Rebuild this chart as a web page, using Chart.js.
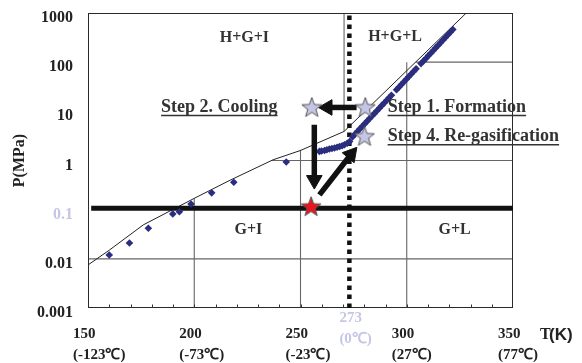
<!DOCTYPE html>
<html>
<head>
<meta charset="utf-8">
<script src="https://cdn.jsdelivr.net/npm/chart.js@4.4.0/dist/chart.umd.min.js"></script>
<style>
  html, body { margin: 0; padding: 0; background: #fff; }
  #wrap { width: 582px; height: 363px; }
</style>
</head>
<body>
<div id="wrap"><canvas id="c"></canvas></div>
<script>
// axis ticks
const tempTicks = [150, 200, 250, 300, 350];
const tempCelsius = ['(-123℃)', '(-73℃)', '(-23℃)', '(27℃)', '(77℃)'];
const pressureTicks = [0.001, 0.01, 0.1, 1, 10, 100, 1000];

// hydrate equilibrium boundary (T in K, P in MPa)
const boundaryT = [150, 160, 176, 200, 217, 237, 250, 270.5, 328];
const boundaryP = [0.0075, 0.015, 0.049, 0.17, 0.4, 1.03, 1.6, 3.9, 1000];

// measured equilibrium points
const measT = [160, 169.5, 178.4, 189.9, 193, 198.5, 208.2, 218.6, 243.3,
  258.9, 259.9, 261.3, 262.4, 263.6, 264.8, 266.0, 267.2, 268.4, 269.6, 270.7, 272.0, 273.1,
  274.5, 275.6, 276.8, 278.0, 279.1, 280.2, 281.4, 282.5, 283.7, 284.8, 286.0, 287.1,
  288.3, 289.4, 290.6, 291.7, 292.8,
  295.2, 296.3, 297.5, 298.6, 299.8, 300.9, 302.1, 303.2, 304.4,
  306.7, 307.9, 309.0, 310.2, 311.3, 312.5, 313.6, 314.8, 315.9, 317.1, 318.2, 319.4, 320.5, 321.7];
const measP = [0.012, 0.021, 0.042, 0.082, 0.091, 0.13, 0.22, 0.36, 0.93,
  1.53, 1.56, 1.60, 1.65, 1.71, 1.75, 1.79, 1.86, 1.93, 2.0, 2.09, 2.25, 2.44,
  3.03, 3.41, 3.88, 4.41, 4.95, 5.57, 6.33, 7.11, 8.09, 9.08, 10.3, 11.6,
  13.2, 14.8, 16.8, 18.9, 21.3,
  27.5, 30.9, 35.1, 39.4, 44.8, 50.4, 57.3, 64.4, 73.1,
  93.4, 106, 119, 136, 152, 173, 195, 221, 249, 282, 318, 361, 406, 461];

// process states
const stepStarT = [255.3, 280.5, 280.1];
const stepStarP = [12, 12, 3.09];
const storeStarT = [255];
const storeStarP = [0.115];

// arrows: [tail, head]
const arrowFormT = [276.4, 262.7];
const arrowFormP = [12, 12];
const arrowCoolT = [256.5, 256.5];
const arrowCoolP = [5.35, 0.40];
const arrowRegasT = [258.9, 273.8];
const arrowRegasP = [0.2, 1.34];

// storage pressure line and 0 ℃ line
const storeLineT = [151.5, 350];
const storeLineP = [0.107, 0.107];
const meltT = [273, 273];
const meltP = [0.001, 1000];

// grid segments drawn only in the gas regions: [[T0, P0], [T1, P1]]
const gridSegments = [
  [[200, 0.001], [200, 0.17]],
  [[250, 0.001], [250, 1.65]],
  [[300, 0.001], [300, 100]],
  [[270.5, 3.9], [270.5, 1000]],
  [[150, 0.01], [350, 0.01]],
  [[236.5, 1], [350, 1]],
  [[304.3, 100], [350, 100]]
];
const frameSegments = [
  [[150, 0.001], [150, 1000]],
  [[150, 0.001], [350, 0.001]],
  [[150, 1000], [350, 1000]],
  [[350, 0.001], [350, 1000]]
];

// text annotations
const regionLabels = ['H+G+I', 'H+G+L', 'G+I', 'G+L'];
const regionT = [223.6, 294.5, 225.5, 322.5];
const regionP = [316, 320, 0.039, 0.039];
const stepLabels = ['Step 2. Cooling', 'Step 1. Formation', 'Step 4. Re-gasification'];
const stepT = [239.2, 291, 291];
const stepP = [12, 12, 3.05];
const stepAlign = ['right', 'left', 'left'];

const SERIF = "'Liberation Serif', 'Times New Roman', serif";
const SANS = "'Liberation Sans', Arial, sans-serif";
const LAVENDER = '#c5c6e6';

function pts(ts, ps) {
  return ts.map((t, i) => ({ x: t, y: ps[i] }));
}

function lineSet(data, color, width, extra) {
  return Object.assign({
    data: data, showLine: true, borderColor: color, borderWidth: width,
    pointRadius: 0, fill: false, tension: 0
  }, extra || {});
}

function starImage(fill) {
  const c = document.createElement('canvas');
  c.width = 24; c.height = 24;
  const g = c.getContext('2d');
  g.beginPath();
  for (let i = 0; i < 10; i++) {
    const r = i % 2 === 0 ? 10.5 : 4.3;
    const a = -Math.PI / 2 + i * Math.PI / 5;
    const px = 12 + r * Math.cos(a), py = 12.5 + r * Math.sin(a);
    if (i === 0) g.moveTo(px, py); else g.lineTo(px, py);
  }
  g.closePath();
  g.fillStyle = fill;
  g.fill();
  g.lineWidth = 1;
  g.strokeStyle = '#555';
  g.stroke();
  return c;
}

function arrowSet(ts, ps, rot) {
  return lineSet(pts(ts, ps), '#111', 5.5, {
    pointRadius: [0, 9], pointStyle: 'triangle', pointRotation: rot,
    pointBackgroundColor: '#111', pointBorderColor: '#111', pointBorderWidth: 1,
    borderCapStyle: 'butt'
  });
}

const datasets = [];
// stars on top
datasets.push({
  data: pts(stepStarT, stepStarP), pointStyle: starImage(LAVENDER), pointRadius: 10, showLine: false
});
datasets.push({
  data: pts(storeStarT, storeStarP), pointStyle: starImage('#e8141e'), pointRadius: 10, showLine: false
});
datasets.push(arrowSet(arrowFormT, arrowFormP, 270));
datasets.push(arrowSet(arrowCoolT, arrowCoolP, 180));
datasets.push(arrowSet(arrowRegasT, arrowRegasP, 40));
datasets.push({
  data: pts(measT, measP), showLine: false, pointStyle: 'rectRot', pointRadius: 3.8,
  pointBackgroundColor: '#2b2e7e', pointBorderColor: '#2b2e7e', pointBorderWidth: 0
});
datasets.push(lineSet(pts(meltT, meltP), '#111', 4.5, { borderDash: [4.5, 4.5], borderCapStyle: 'butt' }));
datasets.push(lineSet(pts(storeLineT, storeLineP), '#111', 5));
datasets.push(lineSet(pts(boundaryT, boundaryP), '#222', 1));
frameSegments.forEach(s => datasets.push(lineSet(s.map(p => ({ x: p[0], y: p[1] })), '#2a2a2a', 2)));
gridSegments.forEach(s => datasets.push(lineSet(s.map(p => ({ x: p[0], y: p[1] })), '#666', 1.1)));

// labels, underlines and bottom minor ticks
const overlay = {
  id: 'overlay',
  afterDatasetsDraw(chart) {
    const { ctx, chartArea } = chart;
    const x = chart.scales.x, y = chart.scales.y;
    ctx.save();

    ctx.strokeStyle = '#333';
    ctx.lineWidth = 1;
    for (let t = 160; t < 350; t += 10) {
      const px = Math.round(x.getPixelForValue(t)) + 0.5;
      ctx.beginPath();
      ctx.moveTo(px, chartArea.bottom);
      ctx.lineTo(px, chartArea.bottom - 3.5);
      ctx.stroke();
    }

    ctx.fillStyle = '#333';
    ctx.textBaseline = 'middle';
    ctx.textAlign = 'center';
    ctx.font = 'bold 16px ' + SERIF;
    regionLabels.forEach((s, i) => {
      ctx.fillText(s, x.getPixelForValue(regionT[i]), y.getPixelForValue(regionP[i]));
    });

    ctx.font = 'bold 18px ' + SERIF;
    ctx.strokeStyle = '#333';
    ctx.lineWidth = 1.5;
    stepLabels.forEach((s, i) => {
      const px = x.getPixelForValue(stepT[i]);
      const py = y.getPixelForValue(stepP[i]);
      const w = ctx.measureText(s).width;
      ctx.textAlign = stepAlign[i];
      ctx.fillText(s, px, py);
      const x0 = stepAlign[i] === 'right' ? px - w : px;
      ctx.beginPath();
      ctx.moveTo(x0, py + 8);
      ctx.lineTo(x0 + w, py + 8);
      ctx.stroke();
    });

    // 273 K marker under the axis
    const mx = x.getPixelForValue(meltT[0]) - 10;
    ctx.fillStyle = LAVENDER;
    ctx.textAlign = 'left';
    ctx.font = 'bold 15px ' + SERIF;
    ctx.fillText('273', mx, chartArea.bottom + 10);
    ctx.fillText('(0℃)', mx, chartArea.bottom + 31);

    // axis unit
    ctx.fillStyle = '#222';
    ctx.font = 'bold 16px ' + SERIF;
    ctx.fillText('T', chartArea.right + 27, chartArea.bottom + 27);
    ctx.font = 'bold 17px ' + SANS;
    ctx.fillText('(K)', chartArea.right + 36, chartArea.bottom + 27);
    ctx.restore();
  }
};

new Chart(document.getElementById('c'), {
  type: 'scatter',
  data: { datasets: datasets },
  options: {
    responsive: true,
    maintainAspectRatio: false,
    animation: false,
    layout: { padding: { top: 13, right: 69, left: 0, bottom: 0 } },
    plugins: { legend: { display: false }, tooltip: { enabled: false } },
    scales: {
      x: {
        type: 'linear', min: 150, max: 350,
        afterFit: s => { s.height = 55; s.paddingLeft = 0; s.paddingRight = 0; },
        afterBuildTicks: s => { s.ticks = tempTicks.map(v => ({ value: v })); },
        grid: { display: false, drawTicks: false },
        border: { display: false },
        ticks: {
          autoSkip: false, maxRotation: 0, minRotation: 0,
          align: 'start', labelOffset: -15, padding: 16,
          color: '#222',
          font: { family: SERIF, size: 15, weight: 'bold', lineHeight: 1.4 },
          callback: v => [String(v), tempCelsius[tempTicks.indexOf(v)]]
        }
      },
      y: {
        type: 'logarithmic', min: 0.001, max: 1000,
        afterFit: s => { s.width = 88; s.paddingTop = 0; s.paddingBottom = 0; },
        afterBuildTicks: s => { s.ticks = pressureTicks.map(v => ({ value: v })); },
        grid: { display: false, drawTicks: false },
        border: { display: false },
        ticks: {
          padding: 15, labelOffset: 5,
          color: c => (c.tick && c.tick.value === 0.1 ? LAVENDER : '#222'),
          font: { family: SERIF, size: 16, weight: 'bold' },
          callback: v => String(v)
        },
        title: {
          display: true, text: 'P(MPa)', color: '#222',
          font: { family: SERIF, size: 16, weight: 'bold' },
          padding: { top: 10, bottom: 0 }
        }
      }
    }
  },
  plugins: [overlay]
});
</script>
</body>
</html>
